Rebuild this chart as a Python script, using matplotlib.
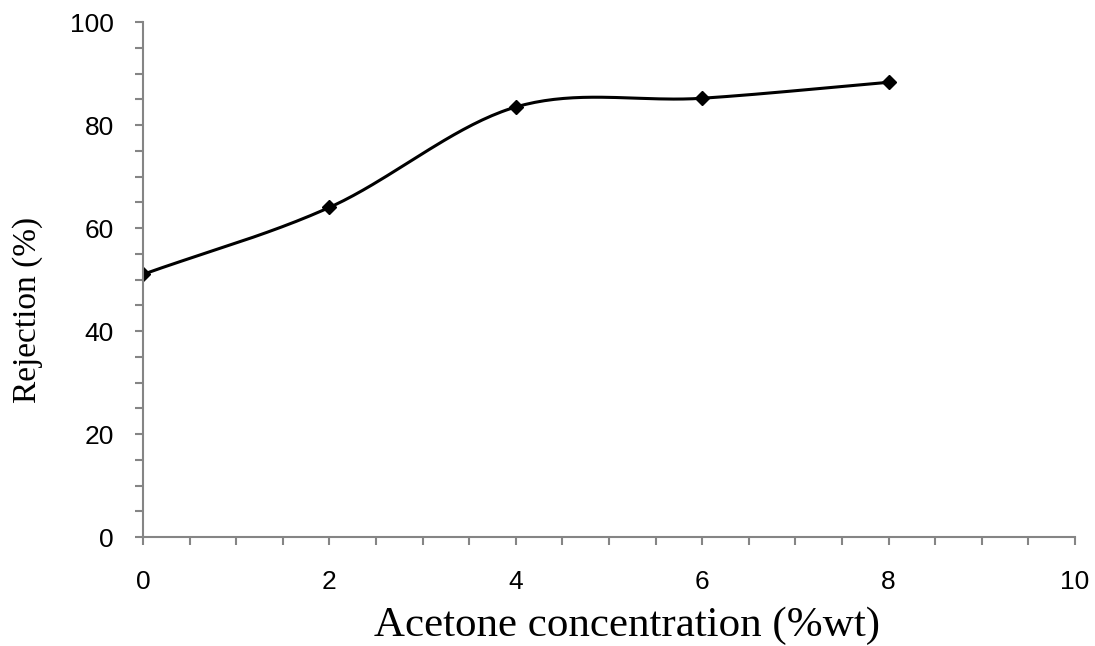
import numpy as np
import matplotlib.pyplot as plt
from matplotlib.ticker import MultipleLocator

# data
acetone = [0, 2, 4, 6, 8]
rejection = [51.0, 64.0, 83.5, 85.2, 88.3]


def catmull_rom(x, y, n=40):
    # Excel-style smoothed line through the points
    x = np.asarray(x, float)
    y = np.asarray(y, float)
    px = np.concatenate([[2 * x[0] - x[1]], x, [2 * x[-1] - x[-2]]])
    py = np.concatenate([[2 * y[0] - y[1]], y, [2 * y[-1] - y[-2]]])
    xs, ys = [], []
    t = np.linspace(0, 1, n)
    for i in range(1, len(px) - 2):
        for p, out in ((px, xs), (py, ys)):
            p0, p1, p2, p3 = p[i - 1], p[i], p[i + 1], p[i + 2]
            out.extend(0.5 * (2 * p1 + (-p0 + p2) * t
                              + (2 * p0 - 5 * p1 + 4 * p2 - p3) * t ** 2
                              + (-p0 + 3 * p1 - 3 * p2 + p3) * t ** 3))
    return xs, ys


fig = plt.figure(figsize=(10.95, 6.46), dpi=100)
ax = fig.add_axes([0.1306, 0.1687, 0.9817 - 0.1306, 0.9659 - 0.1687])

sx, sy = catmull_rom(acetone, rejection)
ax.plot(sx, sy, color='black', linewidth=2.2, solid_capstyle='round')
ax.plot(acetone, rejection, linestyle='none', marker='D', markersize=7.5,
        color='black')

ax.set_xlim(0, 10)
ax.set_ylim(0, 100)
ax.xaxis.set_major_locator(MultipleLocator(2))
ax.xaxis.set_minor_locator(MultipleLocator(0.5))
ax.yaxis.set_major_locator(MultipleLocator(20))
ax.yaxis.set_minor_locator(MultipleLocator(5))

for side in ['top', 'right']:
    ax.spines[side].set_visible(False)
for side in ['left', 'bottom']:
    ax.spines[side].set_color('#858585')
    ax.spines[side].set_linewidth(1.5)

ax.tick_params(axis='both', which='both', color='#858585', width=1.5,
               length=6, direction='out')
ax.tick_params(axis='x', which='major', pad=18, labelsize=19)
ax.tick_params(axis='y', which='major', pad=15, labelsize=19)
for lab in ax.get_xticklabels() + ax.get_yticklabels():
    lab.set_family('Liberation Sans')

ax.set_xlabel('Acetone concentration (%wt)', family='Liberation Serif',
              fontsize=31)
ax.set_ylabel('Rejection (%)', family='Liberation Serif', fontsize=24)
ax.xaxis.set_label_coords((627 - 143) / 932, (537 - 626) / 515)
ax.yaxis.set_label_coords((28 - 143) / 932, (537 - 310) / 515)
for lab in (ax.xaxis.label, ax.yaxis.label):
    lab.set_va('center')
    lab.set_ha('center')

plt.savefig('out.png', dpi=100)
